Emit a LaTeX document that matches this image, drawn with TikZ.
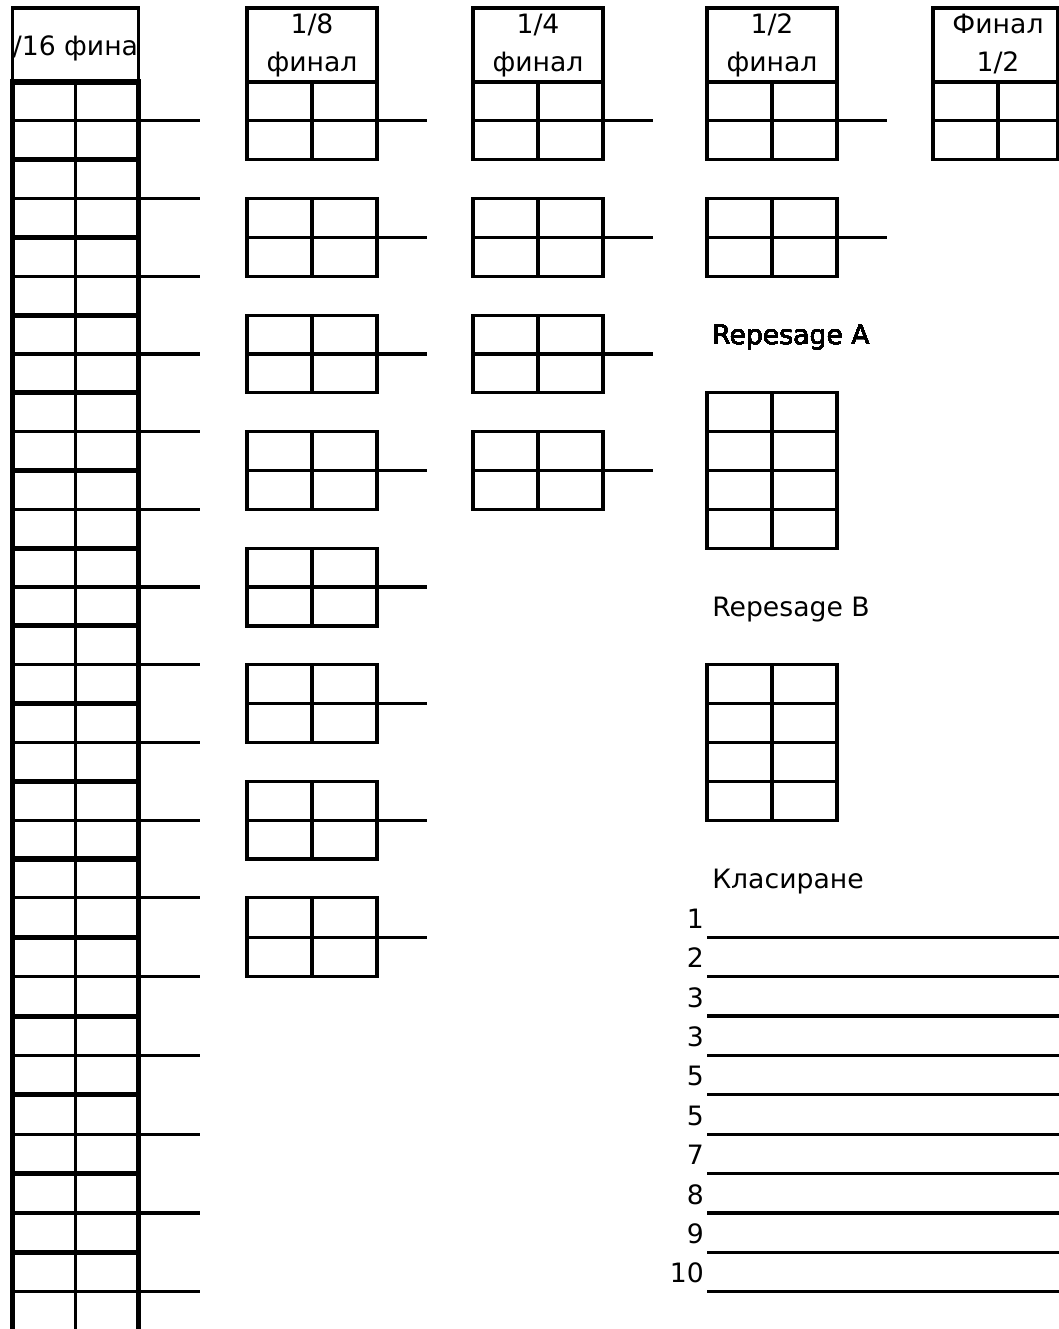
\documentclass[tikz,border=0pt]{standalone}
\usepackage{fontspec}
\setmainfont{DejaVu Sans}
\tikzset{
  cell/.style={line width=2.4pt},
  heavy/.style={line width=3.8pt, line cap=rect},
  lbl/.style={inner sep=0pt, font={\fontsize{20}{24}\selectfont}},
}
\newcommand{\ry}[1]{82+38.85*(#1)+0.55*max(0,(#1)-21)}
\newcommand{\pairbox}[4]{%
  \draw[cell] (#1,{\ry{#2}}) rectangle ({#1+#3},{\ry{#2+2}});
  \draw[cell] ({#1+65},{\ry{#2}}) -- ({#1+65},{\ry{#2+2}});
  \draw[cell] (#1,{\ry{#2+1}}) -- ({#1+#3+#4},{\ry{#2+1}});}
\newcommand{\headbox}[5]{%
  \draw[cell] (#1,8) rectangle ({#1+#2},{\ry{0}});
  \node[lbl, anchor=base] (#3a) at ({#1+65},33) {#4};
  \node[lbl, anchor=base] (#3b) at ({#1+65},71) {#5};}
\newcommand{\repgrid}[1]{%
  \draw[cell] (707,{\ry{#1}}) rectangle (837,{\ry{#1+4}});
  \draw[cell] (772,{\ry{#1}}) -- (772,{\ry{#1+4}});
  \foreach \j in {1,2,3} \draw[cell] (707,{\ry{#1+\j}}) -- (837,{\ry{#1+\j}});}

\begin{document}
\begin{tikzpicture}[x=0.75pt, y=-0.75pt]
  \useasboundingbox (0,0) rectangle (1059,1329);
  \clip (0,0) rectangle (1059,1329);
  \begin{scope}
    \clip (12.5,8) rectangle (138.5,{\ry{0}});
    \node[lbl, anchor=base] (h16) at (75.5,55) {1/16 финал};
  \end{scope}
  \draw[cell] (12.5,8) rectangle (138.5,{\ry{0}});
  \foreach \k in {1,3,...,31}
    \draw[cell] (12.5,{\ry{\k}}) -- (200,{\ry{\k}});
  \foreach \k in {0,2,...,30}
    \draw[heavy] (12.5,{\ry{\k}}) -- (138.5,{\ry{\k}});
  \draw[cell] (75.5,{\ry{0}}) -- (75.5,1340);
  \draw[heavy] (12.5,{\ry{0}}) -- (12.5,1340);
  \draw[heavy] (138.5,{\ry{0}}) -- (138.5,1340);
  \headbox{247}{130}{h8}{1/8}{финал}
  \headbox{473}{130}{h4}{1/4}{финал}
  \headbox{707}{130}{h2}{1/2}{финал}
  \headbox{933}{125}{hf}{Финал}{1/2}
  \foreach \k in {0,3,...,21} \pairbox{247}{\k}{130}{50}
  \foreach \k in {0,3,6,9} \pairbox{473}{\k}{130}{50}
  \foreach \k in {0,3} \pairbox{707}{\k}{130}{50}
  \pairbox{933}{0}{125}{0}
  \node[lbl, anchor=base west] (repA) at (712,{\ry{7}-9}) {Repesage A};
  \repgrid{8}
  \node[lbl, anchor=base west] (repB) at (712,{\ry{14}-9}) {Repesage B};
  \repgrid{15}
  \node[lbl, anchor=base west] (rank) at (712,{\ry{21}-9}) {Класиране};
  \foreach \p [count=\i from 22] in {1,2,3,3,5,5,7,8,9,10} {
    \draw[cell] (707,{\ry{\i}}) -- (1065,{\ry{\i}});
    \node[lbl, anchor=base east] (pl\i) at (704,{\ry{\i}-9}) {\p};}
\end{tikzpicture}
\end{document}
